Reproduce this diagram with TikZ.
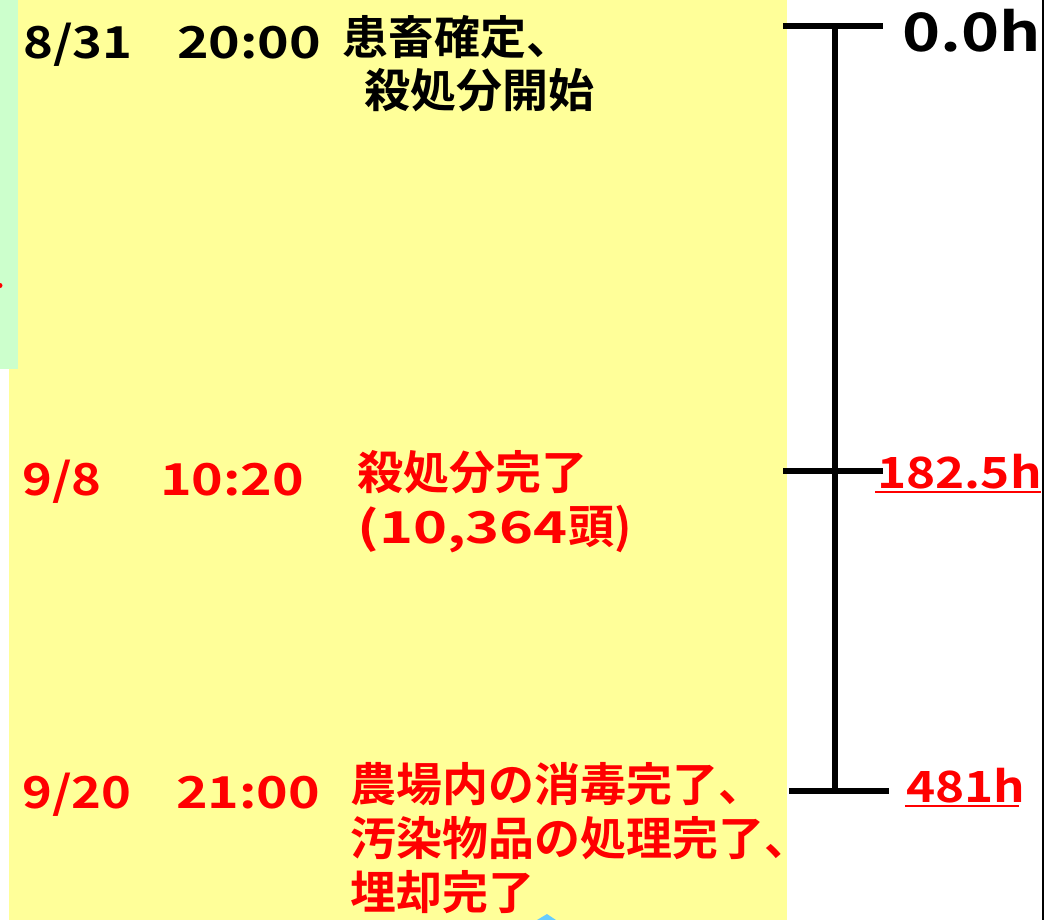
\documentclass[tikz,border=0pt]{standalone}
\usepackage{fontspec}
\setmainfont{Noto Sans CJK JP}[BoldFont={Noto Sans CJK JP Bold}]
\definecolor{bgyellow}{HTML}{FFFF99}
\definecolor{bggreen}{HTML}{CCFFCC}
\definecolor{tipblue}{HTML}{66CCFF}
\definecolor{txtred}{HTML}{FF0000}
\begin{document}
\begin{tikzpicture}[x=1pt,y=-1pt,
  txt/.style={inner sep=0pt,anchor=base west,font=\bfseries\fontsize{46}{52}\selectfont},
  num/.style={inner sep=0pt,anchor=base west,font=\bfseries\fontsize{44}{50}\selectfont,xscale=1.15},
  tnum/.style={num,xscale=1.06},
  wnum/.style={num,xscale=1.14},
  redtxt/.style={text=txtred},
  axis/.style={line width=6.5pt},
  hours/.style={inner sep=0pt,anchor=base west,font=\bfseries\fontsize{53}{60}\selectfont,xscale=1.22},
  redhours/.style={inner sep=0pt,anchor=base west,text=txtred,font=\bfseries\fontsize{43}{50}\selectfont,xscale=1.15},
  uline/.style={draw=txtred,line width=2pt}]
\useasboundingbox (0,0) rectangle (1062,920);
\fill[white] (0,0) rectangle (1062,920);
% backgrounds
\fill[bgyellow] (9,0) rectangle (787,920);
\fill[bggreen] (0,0) rectangle (18,369);
\fill[txtred] (0,285.5) circle (2.5);
\fill[tipblue] (537,920) -- (547,914) -- (556,920) -- cycle;
\draw[line width=1.5pt] (1043,0) -- (1043,920);
% timeline
\coordinate (t0) at (835,26);
\coordinate (t1) at (835,471);
\coordinate (t2) at (835,791);
\coordinate (a0) at (783,26);
\coordinate (b0) at (883,26);
\coordinate (a1) at (783,471);
\coordinate (b1) at (883,471);
\coordinate (a2) at (789,791);
\coordinate (b2) at (889,791);
\draw[axis] (t0) -- (t2);
\draw[axis] (a0) -- (b0);
\draw[axis] (a1) -- (b1);
\draw[axis] (a2) -- (b2);
% hour labels
\node[hours] (h0) at (902,52) {0.0h};
\node[redhours] (h1) at (877,488) {182.5h};
\draw[uline] (875,492) -- (1041,492);
\node[redhours] (h2) at (906,802) {481h};
\draw[uline] (905,806) -- (1019,806);
% event 1
\node[num] (d1) at (23,59) {8/31};
\node[tnum] (c1) at (177,59) {20:00};
\node[txt] (e1a) at (342,55) {患畜確定、};
\node[txt] (e1b) at (364,108) {殺処分開始};
% event 2
\node[num,redtxt] (d2) at (22,495) {9/8};
\node[tnum,redtxt] (c2) at (160,495) {10:20};
\node[txt,redtxt] (e2a) at (357,489) {殺処分完了};
\node[wnum,redtxt] (e2b) at (357,543) {(10,364};
\node[txt,redtxt] (e2c) at (e2b.base east) {頭)};
% event 3
\node[num,redtxt] (d3) at (22,808) {9/20};
\node[tnum,redtxt] (c3) at (176,808) {21:00};
\node[txt,redtxt] (e3a) at (350,801) {農場内の消毒完了、};
\node[txt,redtxt] (e3b) at (350,855) {汚染物品の処理完了、};
\node[txt,redtxt] (e3c) at (350,909) {埋却完了};
\end{tikzpicture}
\end{document}
